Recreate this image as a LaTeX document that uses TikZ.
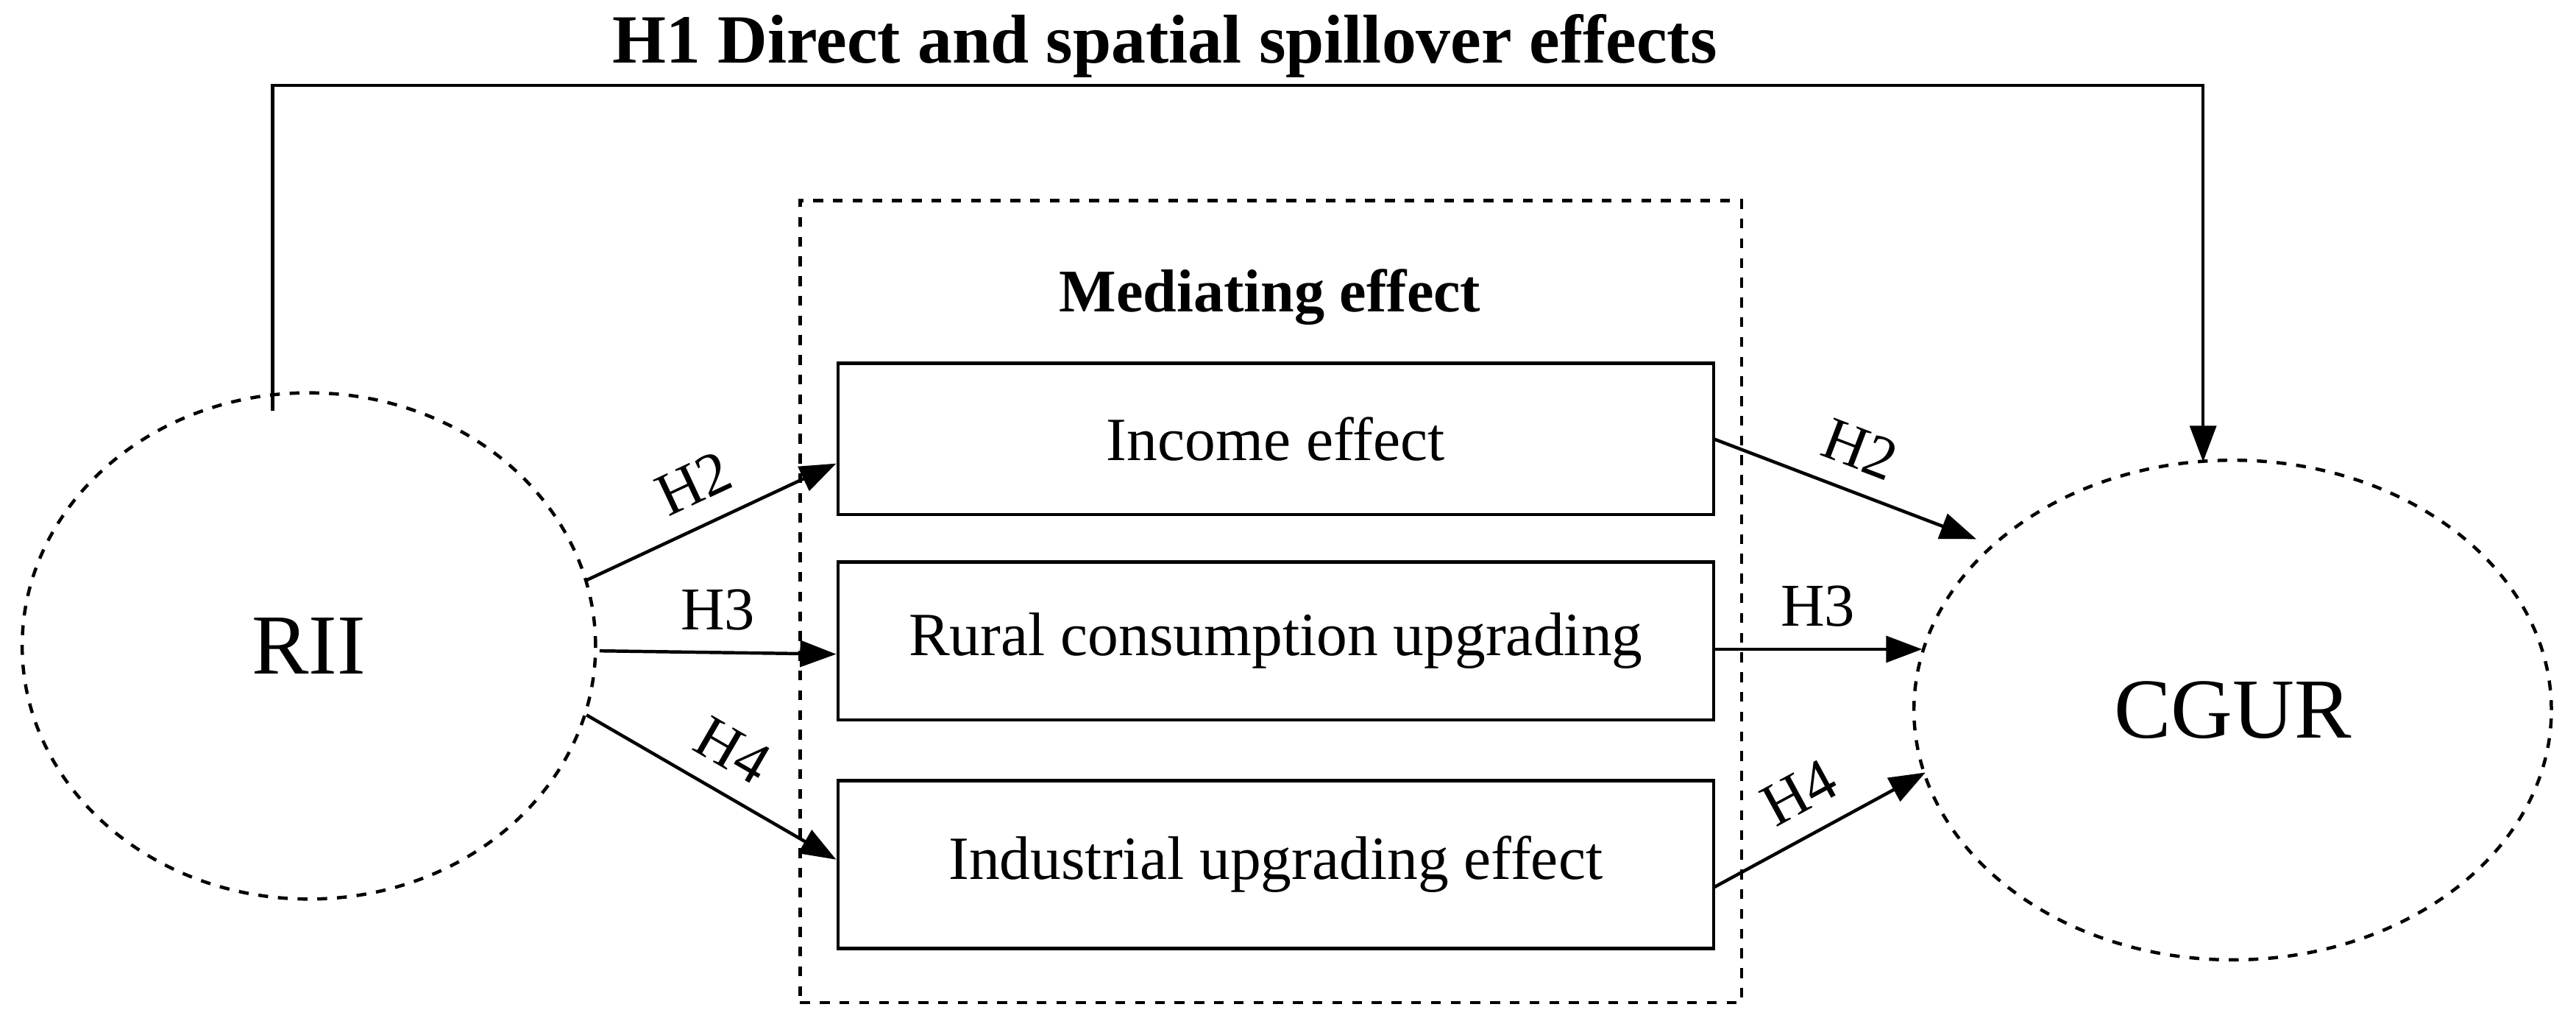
\documentclass[tikz,border=0pt]{standalone}
\usepackage{fontspec}
\setmainfont{Liberation Serif}
\usetikzlibrary{arrows.meta,shapes.geometric}
\begin{document}
\begin{tikzpicture}[x=0.5pt,y=-0.5pt,
  line width=1pt,
  arr/.style={-{Triangle[length=11pt,width=8pt]}},
  mbox/.style={draw,minimum width=266.5pt,minimum height=46pt,font=\fontsize{18.7}{20}\selectfont},
  hl/.style={font=\fontsize{18.5}{20}\selectfont,above=3pt},
  ell/.style={draw,dashed,ellipse,inner sep=0pt}]
\useasboundingbox (0,0) rectangle (1568,621);
\node[ell,minimum width=174.5pt,minimum height=154pt,font=\fontsize{26}{28}\selectfont] (rii) at (188,393) {RII};
\node[ell,minimum width=194pt,minimum height=152pt,font=\fontsize{26}{28}\selectfont] (cgur) at (1359,432) {CGUR};
\node[draw,dashed,minimum width=286.5pt,minimum height=244pt] (med) at (773.5,366) {};
\node[font=\bfseries\fontsize{18.4}{20}\selectfont] (medt) at (773,181) {Mediating effect};
\node[mbox] (inc) at (776.5,267) {Income effect};
\node[mbox,minimum height=48pt] (rur) at (776.5,390) {Rural consumption upgrading};
\node[mbox,minimum height=51pt] (ind) at (776.5,526) {Industrial upgrading effect};
\node[font=\bfseries\fontsize{21}{23}\selectfont] (h1) at (709,28) {H1 Direct and spatial spillover effects};
\coordinate (a) at (166,250);
\coordinate (b) at (1341,281);
\draw[arr] (a) |- (1341,52) -- (b);
\coordinate (l2) at (357,353); \coordinate (l3) at (365,396); \coordinate (l4) at (357,435);
\coordinate (r2) at (1043,267); \coordinate (r3) at (1043,395); \coordinate (r4) at (1043,540);
\coordinate (e2) at (1203,328); \coordinate (e3) at (1170,395); \coordinate (e4) at (1172,470);
\draw[arr] (l2) -- node[hl,sloped] {H2} (inc.west|-0,282);
\draw[arr] (l3) -- node[hl] {H3} (rur.west|-0,398);
\draw[arr] (l4) -- node[hl,sloped] {H4} (ind.west|-0,523);
\draw[arr] (r2) -- node[hl,sloped] {H2} (e2);
\draw[arr] (r3) -- node[hl] {H3} (e3);
\draw[arr] (r4) -- node[hl,sloped] {H4} (e4);
\end{tikzpicture}
\end{document}
